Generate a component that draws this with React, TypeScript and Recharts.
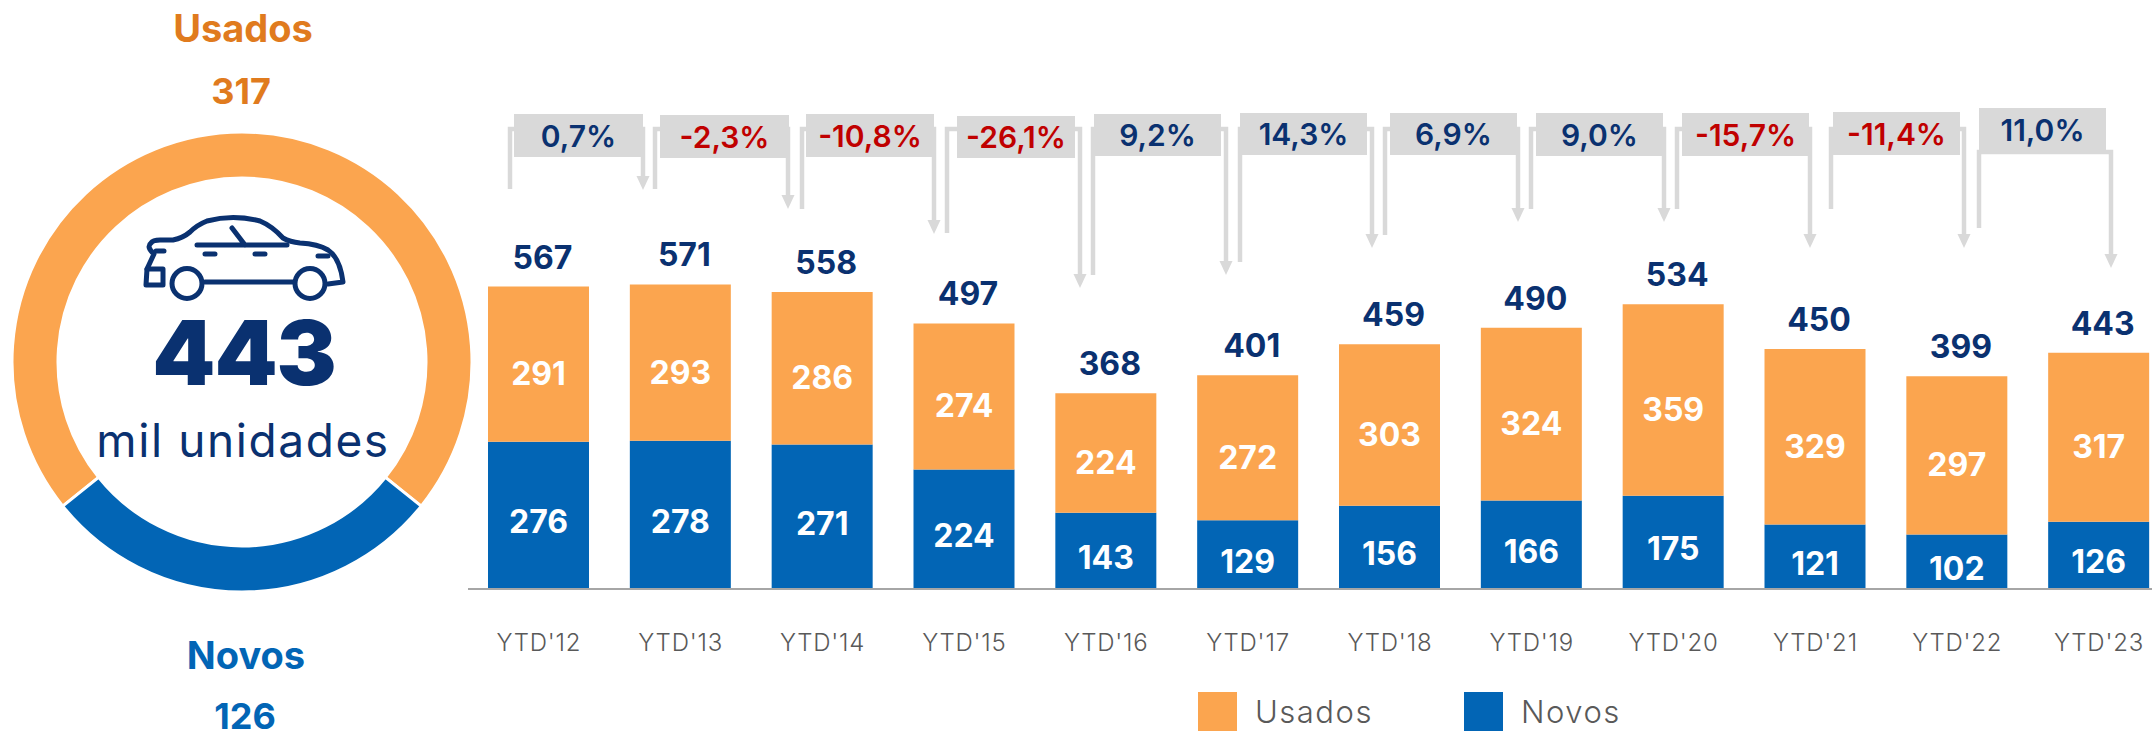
// App.tsx - vendas de veiculos YTD, usados x novos
import { BarChart, Bar, XAxis, YAxis, LabelList, Legend, PieChart, Pie, Cell } from 'recharts';

const categorias = ["YTD'12", "YTD'13", "YTD'14", "YTD'15", "YTD'16", "YTD'17", "YTD'18", "YTD'19", "YTD'20", "YTD'21", "YTD'22", "YTD'23"];
const usados = [291, 293, 286, 274, 224, 272, 303, 324, 359, 329, 297, 317];
const novos = [276, 278, 271, 224, 143, 129, 156, 166, 175, 121, 102, 126];
const totais = [567, 571, 558, 497, 368, 401, 459, 490, 534, 450, 399, 443];
const variacoes = ['0,7%', '-2,3%', '-10,8%', '-26,1%', '9,2%', '14,3%', '6,9%', '9,0%', '-15,7%', '-11,4%', '11,0%'];

const totalAtual = 443;
const usadosAtual = 317;
const novosAtual = 126;

const LARANJA = '#FBA54F';
const LARANJA_TEXTO = '#E07B1E';
const AZUL = '#0265B5';
const AZUL_ESCURO = '#0A3170';
const VERMELHO = '#C00000';
const CINZA = '#D9D9D9';
const FONTE = 'Inter, sans-serif';

const tabela = categorias.map((name, i) => ({ name, Usados: usados[i], Novos: novos[i] }));
const rosca = [
  { name: 'Usados', value: usadosAtual, fill: LARANJA },
  { name: 'Novos', value: novosAtual, fill: AZUL },
];
// a fatia azul fica centrada embaixo (270 graus)
const anguloInicio = 270 + (novosAtual / totalAtual) * 180;

// geometria das setas de variacao (anotacao, nao dado)
const caixas = [
  { x0: 514, x1: 643, y0: 114, y1: 157, esq: 510, esqFim: 189, dir: 643, ponta: 190, topo: 129 },
  { x0: 660, x1: 789, y0: 115, y1: 158, esq: 655, esqFim: 189, dir: 788, ponta: 209, topo: 129 },
  { x0: 806, x1: 934, y0: 114, y1: 157, esq: 802, esqFim: 209, dir: 934, ponta: 234, topo: 129 },
  { x0: 957, x1: 1075, y0: 116, y1: 158, esq: 947, esqFim: 233, dir: 1080, ponta: 288, topo: 129 },
  { x0: 1094, x1: 1221, y0: 114, y1: 156, esq: 1093, esqFim: 275, dir: 1226, ponta: 275, topo: 129 },
  { x0: 1240, x1: 1367, y0: 113, y1: 155, esq: 1240, esqFim: 262, dir: 1372, ponta: 248, topo: 129 },
  { x0: 1390, x1: 1517, y0: 113, y1: 155, esq: 1385, esqFim: 235, dir: 1518, ponta: 222, topo: 129 },
  { x0: 1536, x1: 1663, y0: 113, y1: 156, esq: 1531, esqFim: 209, dir: 1664, ponta: 222, topo: 129 },
  { x0: 1682, x1: 1809, y0: 113, y1: 156, esq: 1677, esqFim: 209, dir: 1810, ponta: 248, topo: 129 },
  { x0: 1833, x1: 1960, y0: 112, y1: 155, esq: 1831, esqFim: 209, dir: 1964, ponta: 248, topo: 129 },
  { x0: 1979, x1: 2106, y0: 108, y1: 152, esq: 1979, esqFim: 228, dir: 2111, ponta: 268, topo: 152 },
];

function Variacoes() {
  return (
    <g>
      {caixas.map((c, i) => (
        <g key={i}>
          <path d={`M${c.esq},${c.esqFim} V${c.topo} H${c.dir} V${c.ponta - 12}`} fill="none" stroke={CINZA} strokeWidth={4.5} />
          <path d={`M${c.dir - 6.5},${c.ponta - 14} H${c.dir + 6.5} L${c.dir},${c.ponta} Z`} fill={CINZA} />
          <rect x={c.x0} y={c.y0} width={c.x1 - c.x0} height={c.y1 - c.y0} fill={CINZA} />
          <text
            x={(c.x0 + c.x1) / 2}
            y={(c.y0 + c.y1) / 2 + 11}
            textAnchor="middle"
            fontFamily={FONTE}
            fontSize={30}
            fontWeight={600}
            fill={variacoes[i].startsWith('-') ? VERMELHO : AZUL_ESCURO}
          >
            {variacoes[i]}
          </text>
        </g>
      ))}
    </g>
  );
}

function Carro() {
  return (
    <g fill="none" stroke={AZUL_ESCURO} strokeWidth={5} strokeLinecap="round" strokeLinejoin="round">
      <path d="M147,269 L154,254 Q146,247 151,243 Q153,240 160,240 L173,240 Q183,238 190,232 Q197,225 207,221 Q233,214 260,221 Q272,226 283,238 Q290,242 300,243 Q318,244 328,250 Q340,258 343,282 L328,284" />
      <path d="M147,269 H163 V285 H146 Z" />
      <path d="M205,282 H293" />
      <ellipse cx={187} cy={283.5} rx={15} ry={15} />
      <ellipse cx={310} cy={283.5} rx={15} ry={15} />
      <path d="M197,245 H287 M232,228 L245,245 M205,254 H215 M255,254 H265 M318,256 H328 M156,251 H164" />
    </g>
  );
}

function RotuloTotal({ x, y, width, index }: any) {
  return (
    <text x={x + width / 2 + 4} y={y - 18} textAnchor="middle" fontFamily={FONTE} fontSize={32} fontWeight={700} fill={AZUL_ESCURO}>
      {totais[index]}
    </text>
  );
}

function RotuloUsados({ x, y, width, height, value }: any) {
  return (
    <text x={x + width / 2} y={y + height / 2 + 21} textAnchor="middle" fontFamily={FONTE} fontSize={32} fontWeight={700} fill="#FFFFFF">
      {value}
    </text>
  );
}

function RotuloNovos({ x, y, width, height, value }: any) {
  return (
    <text x={x + width / 2} y={y + height / 2 + 18} textAnchor="middle" fontFamily={FONTE} fontSize={32} fontWeight={700} fill="#FFFFFF">
      {value}
    </text>
  );
}

function Legenda({ payload }: any) {
  return (
    <div style={{ display: 'flex', fontFamily: FONTE, fontSize: 31, fontWeight: 300, letterSpacing: 1.5, color: '#595959' }}>
      {[...(payload || [])].reverse().map((p: any) => (
        <div key={p.value} style={{ display: 'flex', width: 266, height: 39, alignItems: 'flex-start' }}>
          <span style={{ width: 39, height: 39, background: p.color, marginRight: 18 }} />
          <span style={{ lineHeight: '39px', height: 39 }}>{p.value}</span>
        </div>
      ))}
    </div>
  );
}

export default function App() {
  return (
    <div style={{ position: 'absolute', left: 0, top: 0, width: 2152, height: 731, overflow: 'hidden', background: '#fff' }}>
      <div style={{ position: 'absolute', left: 0, top: 0 }}>
        <PieChart width={484} height={731} margin={{ top: 0, right: 0, bottom: 0, left: 0 }}>
          <Pie
            data={rosca}
            dataKey="value"
            cx={242}
            cy={362}
            innerRadius={184}
            outerRadius={230}
            startAngle={anguloInicio}
            endAngle={anguloInicio + 360}
            stroke="#fff"
            strokeWidth={3}
            isAnimationActive={false}
          >
            {rosca.map((r) => (
              <Cell key={r.name} fill={r.fill} />
            ))}
          </Pie>
          <Carro />
          <g fontFamily={FONTE} textAnchor="middle">
            <text x={243} y={42} fontSize={38} fontWeight={700} fill={LARANJA_TEXTO}>Usados</text>
            <text x={241} y={104} fontSize={36} fontWeight={700} fill={LARANJA_TEXTO}>{usadosAtual}</text>
            <text x={244} y={385} fontSize={90} fontWeight={900} letterSpacing={-1} fill={AZUL_ESCURO}>{totalAtual}</text>
            <text x={243} y={457} fontSize={46} fontWeight={400} letterSpacing={1.6} fill={AZUL_ESCURO}>mil unidades</text>
            <text x={246} y={669} fontSize={38} fontWeight={700} fill={AZUL}>Novos</text>
            <text x={245} y={729} fontSize={36} fontWeight={700} fill={AZUL}>{novosAtual}</text>
          </g>
        </PieChart>
      </div>

      <div style={{ position: 'absolute', left: 0, top: 0 }}>
        <BarChart
          width={2170}
          height={731}
          data={tabela}
          barSize={101}
          margin={{ top: 269, right: 0, bottom: 82, left: 468 }}
        >
          <XAxis
            dataKey="name"
            height={60}
            tickLine={false}
            interval={0}
            axisLine={{ stroke: '#A6A6A6', strokeWidth: 2 }}
            tick={{ fill: '#595959', fontSize: 24, fontWeight: 300, letterSpacing: 0.8, fontFamily: FONTE, dy: 37 }}
          />
          <YAxis hide domain={[0, 600]} />
          <Bar dataKey="Novos" stackId="a" fill={AZUL} isAnimationActive={false}>
            <LabelList dataKey="Novos" content={<RotuloNovos />} />
          </Bar>
          <Bar dataKey="Usados" stackId="a" fill={LARANJA} isAnimationActive={false}>
            <LabelList dataKey="Usados" content={<RotuloUsados />} />
            <LabelList dataKey="Usados" content={<RotuloTotal />} />
          </Bar>
          <Legend
            layout="vertical"
            align="center"
            verticalAlign="middle"
            content={<Legenda />}
            wrapperStyle={{ position: 'absolute', left: 1198, top: 692, width: 560, height: 39 }}
          />
          <Variacoes />
        </BarChart>
      </div>
    </div>
  );
}
